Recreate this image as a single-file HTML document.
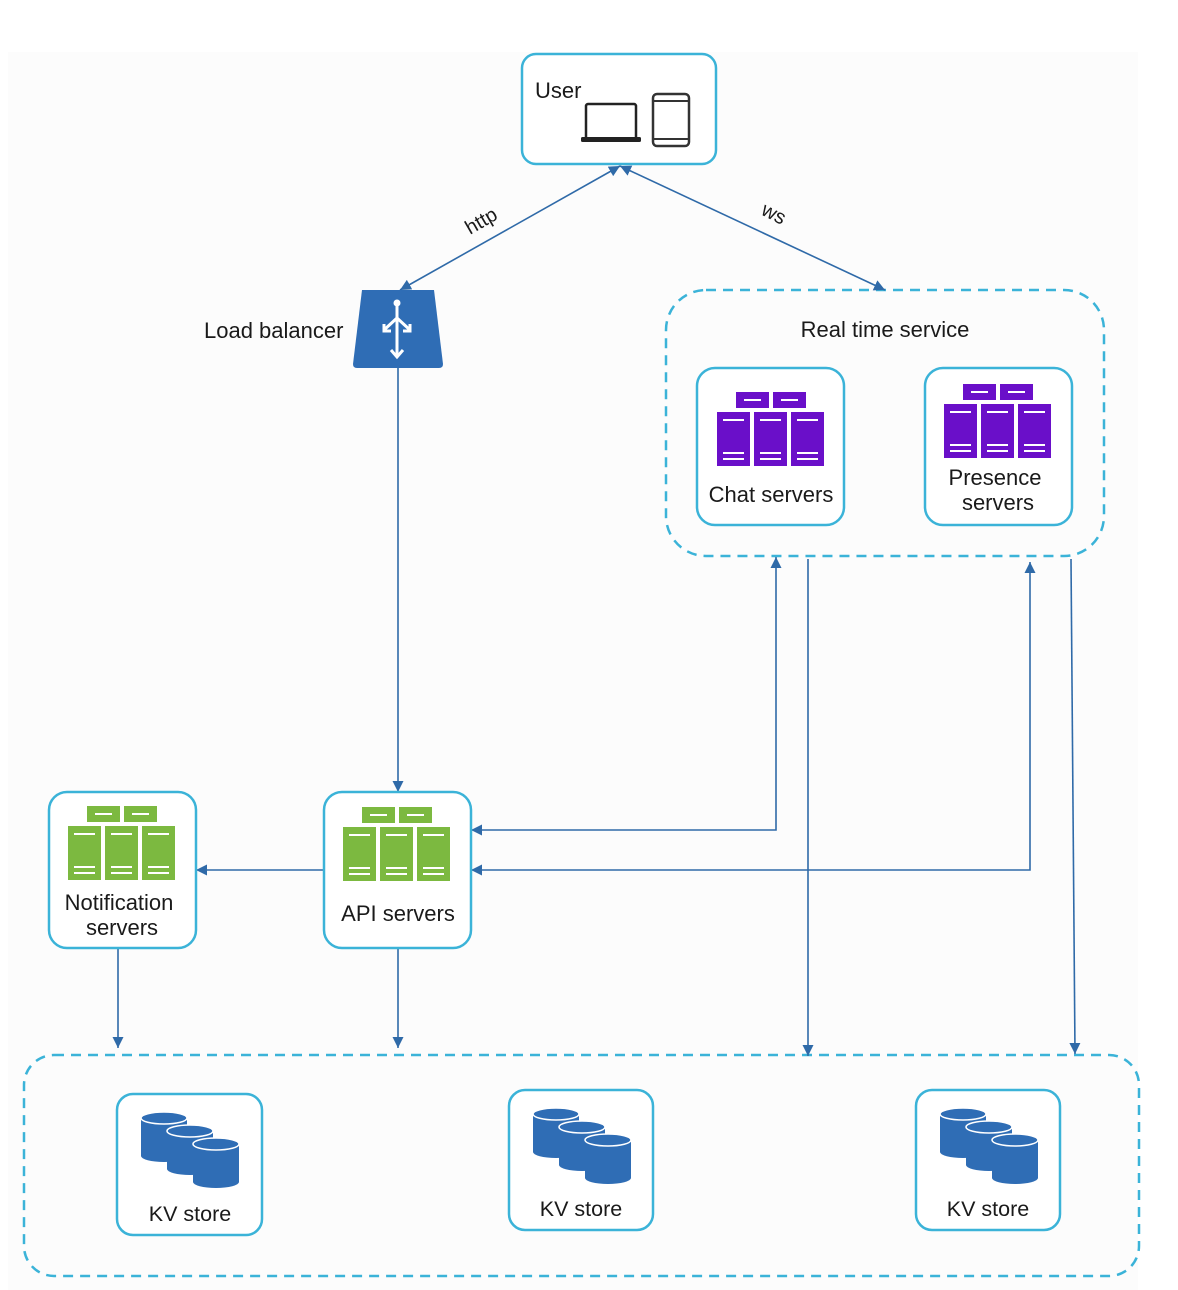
<!DOCTYPE html>
<html><head><meta charset="utf-8"><style>
html,body{margin:0;padding:0;background:#fff;}
svg{display:block;}
text{font-family:"Liberation Sans",Arial,sans-serif;fill:#1a1a1a;}
</style></head><body>
<svg width="1178" height="1290" viewBox="0 0 1178 1290" xmlns="http://www.w3.org/2000/svg">
<defs>
<marker id="ah" viewBox="0 0 10 10" refX="10" refY="5" markerWidth="11" markerHeight="11" markerUnits="userSpaceOnUse" orient="auto-start-reverse">
<path d="M0,0 L10,5 L0,10 z" fill="#2f6aa8"/></marker>
<g id="srv">
<rect x="19" y="0" width="33" height="16"/><rect x="56" y="0" width="33" height="16"/>
<rect x="0" y="20" width="33" height="54"/><rect x="37" y="20" width="33" height="54"/><rect x="74" y="20" width="33" height="54"/>
<g stroke="#fff" stroke-width="2">
<line x1="27" y1="8" x2="44" y2="8"/><line x1="64" y1="8" x2="81" y2="8"/>
<line x1="6" y1="28" x2="27" y2="28"/><line x1="43" y1="28" x2="64" y2="28"/><line x1="80" y1="28" x2="101" y2="28"/>
<line x1="6" y1="61" x2="27" y2="61"/><line x1="43" y1="61" x2="64" y2="61"/><line x1="80" y1="61" x2="101" y2="61"/>
<line x1="6" y1="67" x2="27" y2="67"/><line x1="43" y1="67" x2="64" y2="67"/><line x1="80" y1="67" x2="101" y2="67"/>
</g></g>
<g id="cyl">
<path d="M0,6 L0,44 A23,6 0 0 0 46,44 L46,6 z" fill="#2f6db5"/>
<ellipse cx="23" cy="6" rx="23" ry="6" fill="#2f6db5" stroke="#fff" stroke-width="1.5"/>
</g>
<g id="kv">
<use href="#cyl" x="0" y="0"/><use href="#cyl" x="26" y="13"/><use href="#cyl" x="52" y="26"/>
</g>
</defs>
<rect x="8" y="52" width="1130" height="1238" fill="#fcfcfc"/>

<rect x="666" y="290" width="438" height="266" rx="40" fill="none" stroke="#3bb3d8" stroke-width="2.5" stroke-dasharray="10,7"/>
<rect x="24" y="1055" width="1115" height="221" rx="30" fill="none" stroke="#3bb3d8" stroke-width="2.5" stroke-dasharray="10,7"/>

<rect x="522" y="54" width="194" height="110" rx="14" fill="#fff" stroke="#3bb3d8" stroke-width="2.5"/>
<text x="535" y="98" font-size="22">User</text>
<rect x="586" y="104" width="50" height="35" rx="2" fill="none" stroke="#222" stroke-width="2.5"/>
<rect x="581" y="137" width="60" height="5" rx="1.5" fill="#222"/>
<rect x="653" y="94" width="36" height="52" rx="4" fill="none" stroke="#333" stroke-width="2.5"/>
<line x1="653" y1="101" x2="689" y2="101" stroke="#333" stroke-width="2"/>
<line x1="653" y1="139" x2="689" y2="139" stroke="#333" stroke-width="2"/>

<g stroke="#2f6aa8" stroke-width="1.6" fill="none">
<line x1="620" y1="166" x2="400" y2="290" marker-start="url(#ah)" marker-end="url(#ah)"/>
<line x1="620" y1="166" x2="885" y2="290" marker-start="url(#ah)" marker-end="url(#ah)"/>
<line x1="398" y1="368" x2="398" y2="792" marker-end="url(#ah)"/>
<polyline points="471,830 776,830 776,557" marker-start="url(#ah)" marker-end="url(#ah)"/>
<polyline points="471,870 1030,870 1030,562" marker-start="url(#ah)" marker-end="url(#ah)"/>
<line x1="324" y1="870" x2="196" y2="870" marker-end="url(#ah)"/>
<line x1="118" y1="948" x2="118" y2="1048" marker-end="url(#ah)"/>
<line x1="398" y1="948" x2="398" y2="1048" marker-end="url(#ah)"/>
<line x1="808" y1="559" x2="808" y2="1056" marker-end="url(#ah)"/>
<line x1="1071" y1="559" x2="1075" y2="1054" marker-end="url(#ah)"/>
</g>
<text transform="translate(470,235) rotate(-30)" font-size="20">http</text>
<text transform="translate(760,214) rotate(27)" font-size="20">ws</text>

<path d="M362,290 L434,290 L443,364 Q443,368 439,368 L357,368 Q353,368 353,364 z" fill="#2f6db5"/>
<g stroke="#fff" stroke-width="3" fill="none">
<line x1="397" y1="304" x2="397" y2="356"/>
<polyline points="391,350 397,357 403,350"/>
<line x1="397" y1="318" x2="384" y2="330"/><polyline points="384,324 384,331 391,331"/>
<line x1="397" y1="318" x2="410" y2="330"/><polyline points="410,324 410,331 403,331"/>
</g>
<circle cx="397" cy="303" r="3.5" fill="#fff"/>
<text x="204" y="338" font-size="22">Load balancer</text>

<text x="885" y="337" font-size="22" text-anchor="middle">Real time service</text>

<rect x="697" y="368" width="147" height="157" rx="18" fill="#fff" stroke="#3bb3d8" stroke-width="2.5"/>
<use href="#srv" x="717" y="392" fill="#6a0fc9"/>
<text x="771" y="502" font-size="22" text-anchor="middle">Chat servers</text>
<rect x="925" y="368" width="147" height="157" rx="18" fill="#fff" stroke="#3bb3d8" stroke-width="2.5"/>
<use href="#srv" x="944" y="384" fill="#6a0fc9"/>
<text x="995" y="485" font-size="22" text-anchor="middle">Presence</text>
<text x="998" y="510" font-size="22" text-anchor="middle">servers</text>

<rect x="49" y="792" width="147" height="156" rx="18" fill="#fff" stroke="#3bb3d8" stroke-width="2.5"/>
<use href="#srv" x="68" y="806" fill="#7cb940"/>
<text x="119" y="910" font-size="22" text-anchor="middle">Notification</text>
<text x="122" y="935" font-size="22" text-anchor="middle">servers</text>
<rect x="324" y="792" width="147" height="156" rx="18" fill="#fff" stroke="#3bb3d8" stroke-width="2.5"/>
<use href="#srv" x="343" y="807" fill="#7cb940"/>
<text x="398" y="921" font-size="22" text-anchor="middle">API servers</text>

<rect x="117" y="1094" width="145" height="141" rx="16" fill="#fff" stroke="#3bb3d8" stroke-width="2.5"/>
<use href="#kv" x="141" y="1112"/>
<text x="190" y="1221" font-size="21.5" text-anchor="middle">KV store</text>
<rect x="509" y="1090" width="144" height="140" rx="16" fill="#fff" stroke="#3bb3d8" stroke-width="2.5"/>
<use href="#kv" x="533" y="1108"/>
<text x="581" y="1216" font-size="21.5" text-anchor="middle">KV store</text>
<rect x="916" y="1090" width="144" height="140" rx="16" fill="#fff" stroke="#3bb3d8" stroke-width="2.5"/>
<use href="#kv" x="940" y="1108"/>
<text x="988" y="1216" font-size="21.5" text-anchor="middle">KV store</text>
</svg>
</body></html>
